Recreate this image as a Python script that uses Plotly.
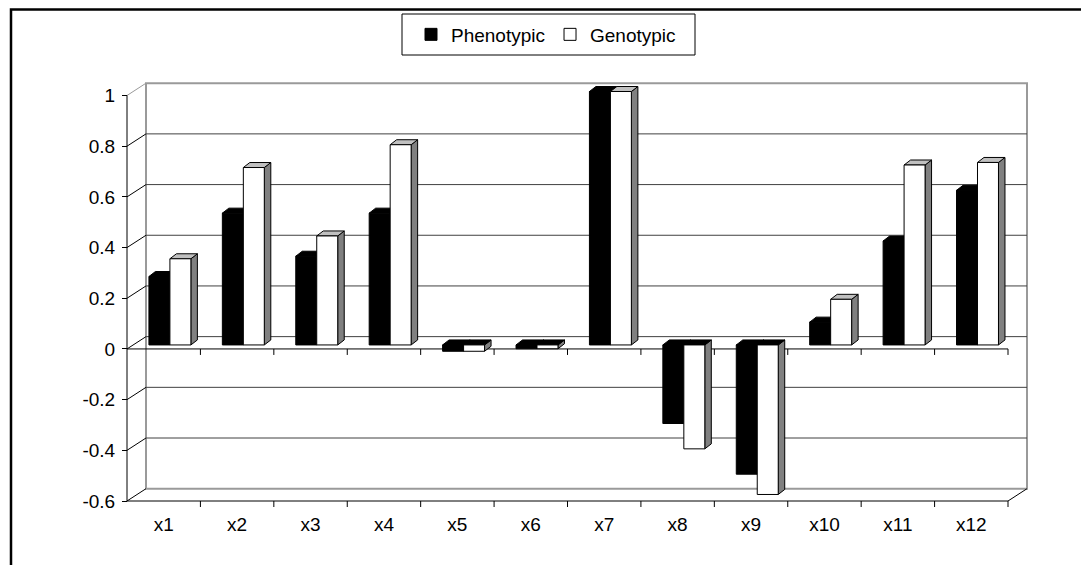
import plotly.graph_objects as go

# ---- data -------------------------------------------------------------
categories = ["x1", "x2", "x3", "x4", "x5", "x6", "x7", "x8", "x9", "x10", "x11", "x12"]
phenotypic = [0.27, 0.52, 0.35, 0.52, -0.025, -0.015, 1.00, -0.31, -0.51, 0.09, 0.41, 0.61]
genotypic = [0.34, 0.70, 0.43, 0.79, -0.025, -0.015, 1.00, -0.41, -0.59, 0.18, 0.71, 0.72]
y_ticks = [-0.6, -0.4, -0.2, 0, 0.2, 0.4, 0.6, 0.8, 1.0]
y_tick_labels = ["-0.6", "-0.4", "-0.2", "0", "0.2", "0.4", "0.6", "0.8", "1"]

# ---- page geometry (pixels) -------------------------------------------
W, H = 1081, 565
AREA_L, AREA_T, AREA_R, AREA_B = 100, 70, 1060, 545      # plotting area
FRONT_L, FRONT_R = 127, 1008                            # front frame edges
FRONT_TOP, FRONT_BOT = 95.5, 501                        # y of max / min tick
Y_MIN, Y_MAX = y_ticks[0], y_ticks[-1]
n = len(categories)

cat_px = (FRONT_R - FRONT_L) / n
val_px = (FRONT_BOT - FRONT_TOP) / (Y_MAX - Y_MIN)
x_range = [-0.5 - (FRONT_L - AREA_L) / cat_px, n - 0.5 + (AREA_R - FRONT_R) / cat_px]
y_range = [Y_MIN - (AREA_B - FRONT_BOT) / val_px, Y_MAX + (FRONT_TOP - AREA_T) / val_px]

# pseudo-3D depth of the floor / walls and of each column, in axis units
DX, DY = 19 / cat_px, 12.3 / val_px
BAR_W = 1 / 3.5                      # gap width 150 %
SHIFT_X, SHIFT_Y = 6.2 / cat_px, 4 / val_px
BAR_DX, BAR_DY = 6.5 / cat_px, 5 / val_px
TICK = 6 / val_px

FONT = "Liberation Sans, Arial, sans-serif"
FS = 19


def line(x0, y0, x1, y1, color="black", width=1):
    return dict(type="line", xref="x", yref="y", x0=x0, y0=y0, x1=x1, y1=y1,
                line=dict(color=color, width=width), layer="below")


def poly(pts, fill):
    d = "M " + " L ".join(f"{x},{y}" for x, y in pts) + " Z"
    return dict(type="path", xref="x", yref="y", path=d, fillcolor=fill,
                line=dict(color="black", width=1), layer="below")


shapes = []

# back wall with its gridlines
shapes.append(dict(type="rect", xref="x", yref="y",
                   x0=-0.5 + DX, x1=n - 0.5 + DX, y0=Y_MIN + DY, y1=Y_MAX + DY,
                   line=dict(color="#9a9a9a", width=2), fillcolor="white", layer="below"))
for v in y_ticks[1:-1]:
    shapes.append(line(-0.5 + DX, v + DY, n - 0.5 + DX, v + DY, "#404040", 1))

# side wall edges running back from each value tick
for v in y_ticks:
    shapes.append(line(-0.5, v, -0.5 + DX, v + DY, "#9a9a9a" if v == Y_MAX else "black", 1))
shapes.append(line(n - 0.5, Y_MIN, n - 0.5 + DX, Y_MIN + DY))

# front value axis, floor edge and category axis at zero
shapes.append(line(-0.5, Y_MIN, -0.5, Y_MAX))
shapes.append(line(-0.5, Y_MIN, n - 0.5, Y_MIN))
shapes.append(line(-0.5, 0, n - 0.5, 0))
for i in range(n):
    b = i + 0.5
    shapes.append(line(b, Y_MIN, b, Y_MIN - TICK))
    shapes.append(line(b, 0, b, -TICK))

# top and side faces of every column
series = [
    (phenotypic, SHIFT_X - BAR_W, "black", lambda v: "black"),
    (genotypic, SHIFT_X, "#808080", lambda v: "#c0c0c0" if v > 0 else "black"),
]
for i in range(n):
    for vals, off, side_col, top_col in series:
        v = vals[i]
        xl = i + off
        xr = xl + BAR_W
        y_hi = SHIFT_Y + max(v, 0)
        y_lo = SHIFT_Y + min(v, 0)
        shapes.append(poly([(xr, y_lo), (xr, y_hi), (xr + BAR_DX, y_hi + BAR_DY),
                            (xr + BAR_DX, y_lo + BAR_DY)], side_col))
        shapes.append(poly([(xl, y_hi), (xl + BAR_DX, y_hi + BAR_DY),
                            (xr + BAR_DX, y_hi + BAR_DY), (xr, y_hi)], top_col(v)))

# legend frame and outer chart border
shapes.append(dict(type="rect", xref="paper", yref="paper",
                   x0=402 / W, x1=695 / W, y0=1 - 55 / H, y1=1 - 14 / H,
                   line=dict(color="black", width=1), fillcolor="white", layer="below"))
shapes.append(dict(type="path", xref="paper", yref="paper",
                   path=f"M {11 / W},0 L {11 / W},{1 - 9.5 / H} L 1,{1 - 9.5 / H}",
                   line=dict(color="black", width=2.5), layer="above"))

fig = go.Figure()
fig.add_trace(go.Bar(
    name="Phenotypic", x=list(range(n)), y=phenotypic, base=SHIFT_Y,
    width=BAR_W, offset=SHIFT_X - BAR_W,
    marker=dict(color="black", line=dict(color="black", width=1)),
))
fig.add_trace(go.Bar(
    name="Genotypic", x=list(range(n)), y=genotypic, base=SHIFT_Y,
    width=BAR_W, offset=SHIFT_X,
    marker=dict(color="white", line=dict(color="black", width=1)),
))

fig.update_layout(
    width=W, height=H,
    margin=dict(l=0, r=0, t=0, b=0),
    paper_bgcolor="white", plot_bgcolor="rgba(0,0,0,0)",
    barmode="overlay",
    font=dict(family=FONT, size=FS, color="black"),
    shapes=shapes,
    showlegend=True,
    legend=dict(orientation="h", x=546 / W, xanchor="center",
                y=1 - 34.5 / H, yanchor="middle",
                bgcolor="rgba(0,0,0,0)", borderwidth=0,
                font=dict(family=FONT, size=FS, color="black")),
    xaxis=dict(domain=[AREA_L / W, AREA_R / W], range=x_range,
               anchor="free", position=1 - FRONT_BOT / H,
               tickvals=list(range(n)), ticktext=categories, ticks="",
               ticklabelstandoff=10,
               showline=False, showgrid=False, zeroline=False, fixedrange=True),
    yaxis=dict(domain=[1 - AREA_B / H, 1 - AREA_T / H], range=y_range,
               anchor="free", position=FRONT_L / W,
               tickvals=y_ticks, ticktext=y_tick_labels,
               ticks="outside", ticklen=5, tickwidth=1, tickcolor="black",
               ticklabelstandoff=3,
               showline=False, showgrid=False, zeroline=False, fixedrange=True),
)

fig.write_html("out.html")
